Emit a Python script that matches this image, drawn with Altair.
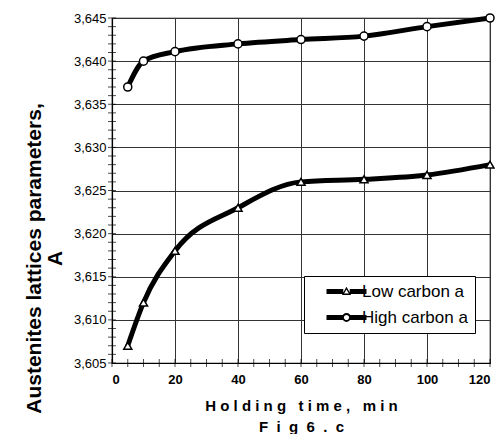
import altair as alt
import pandas as pd

time_min = [5, 10, 20, 40, 60, 80, 100, 120]
low_carbon = [3.607, 3.612, 3.618, 3.623, 3.626, 3.6263, 3.6268, 3.628]
high_carbon = [3.637, 3.640, 3.6411, 3.642, 3.6425, 3.6429, 3.644, 3.645]
series_names = ["Low carbon a", "High carbon a"]
x_ticks = [0, 20, 40, 60, 80, 100, 120]
y_ticks = [3.605, 3.610, 3.615, 3.620, 3.625, 3.630, 3.635, 3.640, 3.645]
x_minor = [i * 5 for i in range(25)]
y_minor = [round(3.605 + i * 0.001, 3) for i in range(41)]

rows = []
for t, v in zip(time_min, low_carbon):
    rows.append({"time": t, "value": v, "series": series_names[0]})
for t, v in zip(time_min, high_carbon):
    rows.append({"time": t, "value": v, "series": series_names[1]})
df = pd.DataFrame(rows)

FONT = "Liberation Sans"
NB = "\u00a0"
xs = alt.Scale(domain=[0, 120], nice=False, zero=False)
ys = alt.Scale(domain=[3.605, 3.645], nice=False, zero=False)


def spaced(text, gap=1, word_gap=3):
    out = []
    for word in text.split(" "):
        out.append((NB * gap).join(word))
    return (NB * word_gap).join(out)


# legend symbol paths (line with hollow marker)
c = 6.75
L0, L1, h = 1.75, 11.75, 0.625


def bars(gap):
    return (f"M{L0},{-h}H{c-gap}V{h}H{L0}Z "
            f"M{c+gap},{-h}H{L1}V{h}H{c+gap}Z ")


tri_path = (bars(0.8) +
            f"M{c},-1.2L{c+1.15},0.85L{c-1.15},0.85Z "
            f"M{c},-0.5L{c-0.6},0.5L{c+0.6},0.5Z")
circ_path = (bars(0.9) +
             f"M{c-1.1},0A1.1,1.1 0 1,1 {c+1.1},0A1.1,1.1 0 1,1 {c-1.1},0Z "
             f"M{c-0.65},0A0.65,0.65 0 1,0 {c+0.65},0A0.65,0.65 0 1,0 {c-0.65},0Z")

x_axis = alt.Axis(
    values=x_ticks, grid=True, ticks=False, labelPadding=10,
    labelFont=FONT, labelFontSize=13, labelColor="black", labelFontWeight="bold",
    title=[spaced("Holding time, min"), spaced("Fig6.c", gap=2)],
    titleFont=FONT, titleFontSize=15, titleFontWeight="bold", titleColor="black",
    titlePadding=12, titleLineHeight=21,
)
y_axis = alt.Axis(
    values=y_ticks, grid=True, ticks=False, labelPadding=6,
    labelExpr="replace(format(datum.value, '.3f'), '.', ',')",
    labelFont=FONT, labelFontSize=13, labelColor="black",
    title=["Austenites lattices parameters,", "A"],
    titleFont=FONT, titleFontSize=21, titleFontWeight="bold", titleColor="black",
    titleAngle=-90, titleAlign="center", titleBaseline="top",
    titleX=-89, titleY=240, titleLineHeight=21,
)

base = alt.Chart(df)

lines = base.mark_line(color="black", strokeWidth=5, interpolate="monotone").encode(
    x=alt.X("time:Q", scale=xs, axis=x_axis),
    y=alt.Y("value:Q", scale=ys, axis=y_axis),
    detail="series:N",
)

points = base.mark_point(filled=True, fill="white", stroke="black", strokeWidth=1.5,
                         size=65, opacity=1).encode(
    x=alt.X("time:Q", scale=xs),
    y=alt.Y("value:Q", scale=ys),
    shape=alt.Shape("series:N", scale=alt.Scale(domain=series_names,
                                                range=["triangle-up", "circle"]),
                    legend=None),
)

legend_layer = base.mark_point(filled=True, color="black", opacity=0).encode(
    x=alt.X("time:Q", scale=xs),
    y=alt.Y("value:Q", scale=ys),
    shape=alt.Shape("series:N", scale=alt.Scale(domain=series_names,
                                                range=[tri_path, circ_path]),
                    legend=alt.Legend(
                        title=None, orient="none", legendX=192, legendY=258,
                        padding=7, rowPadding=8, strokeColor="black", fillColor="white",
                        symbolSize=64, symbolOpacity=1, symbolFillColor="black",
                        symbolStrokeWidth=0, labelOffset=34,
                        labelFont=FONT, labelFontSize=17, labelColor="black",
                        labelExpr="datum.label + '\u00a0\u00a0\u00a0\u00a0'",
                    )),
)

yt = alt.Chart(pd.DataFrame({"v": y_minor})).mark_tick(
    orient="horizontal", color="black", size=8, thickness=1).encode(
    y=alt.Y("v:Q", scale=ys), x=alt.value(0))
xt = alt.Chart(pd.DataFrame({"t": x_minor})).mark_tick(
    orient="vertical", color="black", size=8, thickness=1).encode(
    x=alt.X("t:Q", scale=xs), y=alt.value(345))

chart = alt.layer(lines, points, legend_layer, yt, xt).resolve_scale(
    shape="independent"
).properties(
    width=378, height=345, autosize="none",
    padding={"left": 104, "top": 10, "right": 5, "bottom": 71},
).configure_view(stroke="black", strokeWidth=1.2).configure_axis(
    gridColor="#333333", gridWidth=1, domainColor="black", domainWidth=1.2,
)

chart.save("out.html", embed_options={"renderer": "svg", "actions": False})
